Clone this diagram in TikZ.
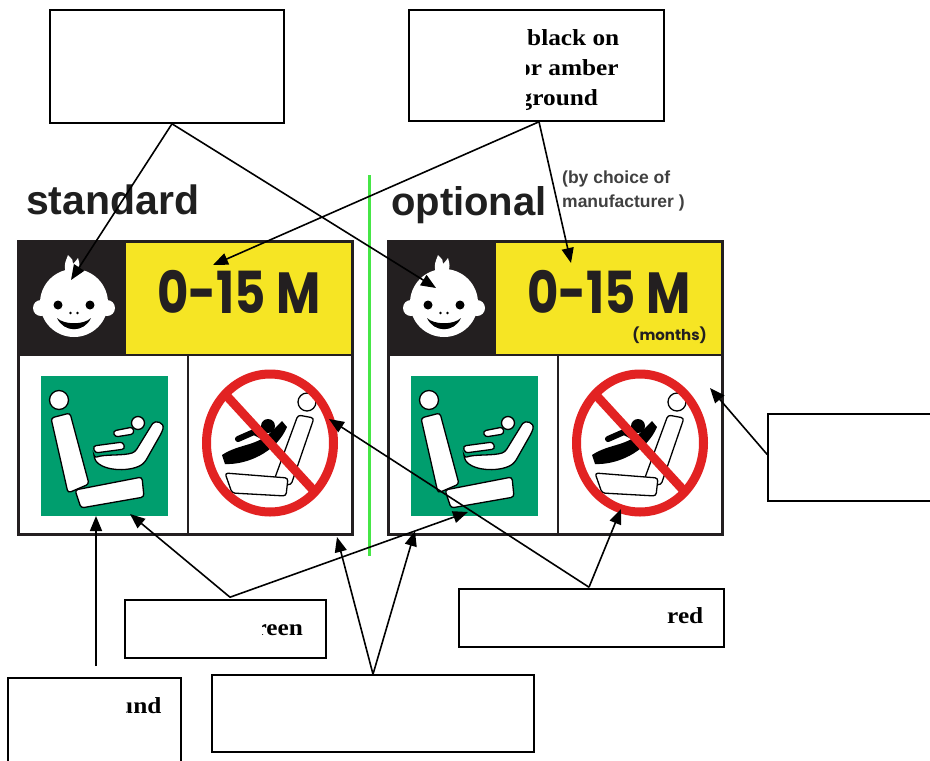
\documentclass[tikz,border=0pt]{standalone}
\usepackage{fontspec}
\setmainfont{Liberation Serif}
\newfontfamily\arialf{Liberation Sans}
\newfontfamily\popf{Poppins}
\usetikzlibrary{arrows.meta,calc}
\definecolor{signyellow}{RGB}{246,229,36}
\definecolor{signgreen}{RGB}{0,158,110}
\definecolor{signred}{RGB}{226,34,34}
\definecolor{linegreen}{RGB}{70,230,70}
\definecolor{signblack}{RGB}{35,31,32}
\newcommand{\signpanel}{%
  \fill[white] (18,241) rectangle (352,534);
  \fill[signblack] (18,241) rectangle (126,355);
  \fill[signyellow] (126,241) rectangle (352,355);
  \draw[signblack,line width=1.6pt] (18,355) -- (352,355) (188,355) -- (188,534);
  \fill[signgreen] (41,376) rectangle (168,516);
  % baby face
  \begin{scope}[shift={(74,303)}]
    \fill[white] (-33,5) circle (8) (33,5) circle (8);
    \fill[white] (0,0) circle (34);
    \fill[white] (-8,-31) .. controls (-11,-38) and (-8,-42) .. (-6,-48)
      .. controls (-2,-44) and (0,-42) .. (-1,-39)
      .. controls (2,-42) and (3,-44) .. (4,-45)
      .. controls (6,-39) and (6,-35) .. (4,-31) -- cycle;
    \fill[black] (-16,2) circle (4.5) (16,2) circle (4.5);
    \fill[black] (-3.5,10) circle (1.4) (3.5,10) circle (1.4);
    \fill[black] (-17,15) .. controls (-10,30) and (10,30) .. (17,15)
      .. controls (10,22) and (-10,22) .. (-17,15) -- cycle;
  \end{scope}
  % seat with rear-facing carrier (allowed)
  \begin{scope}[shift={(41,376)}]
    \draw[seatline] (10,42) -- (29,37) -- (48,108) -- (27,117) -- cycle;
    \draw[seatline] (34,114) -- (101,101) -- (103,121) -- (40,132) -- cycle;
    \draw[seatline] (18,24) circle (9.5);
    \draw[seatline] (53,82) .. controls (62,96) and (92,96) .. (104,86)
      -- (121,56) .. controls (124,46) and (114,44) .. (110,50)
      -- (94,76) .. controls (82,80) and (64,78) .. (53,82) -- cycle;
    \draw[seatline] (97,47) circle (6.5);
    \draw[seatline] (52,70) -- (82,66) -- (84,73) -- (54,77) -- cycle;
    \draw[seatline] (72,55) -- (92,51) -- (93,58) -- (74,61) -- cycle;
  \end{scope}
  % seat with child seat (prohibited)
  \begin{scope}[shift={(270,443)}]
    \draw[seatline] (28,-28) -- (44,-25) -- (21,42) -- (3,40) -- cycle;
    \draw[seatline] (37,-41) circle (9);
    \draw[seatline] (-45,30) -- (18,35) -- (16,53) -- (-38,50) -- cycle;
    \fill[black] (-48,12) .. controls (-30,0) and (-12,4) .. (4,-14)
      -- (12,-22) -- (17,-16) .. controls (6,10) and (-24,22) .. (-45,21) -- cycle;
    \fill[black] (-2,-17) circle (7);
    \draw[black,line width=6pt,line cap=round] (-32,-4) -- (-16,-11) -- (-6,-6);
    \draw[signred,line width=9pt] (0,0) ellipse (63.5 and 69);
    \draw[signred,line width=9pt] (-45,-49) -- (45,49);
  \end{scope}
  \draw[signblack,line width=3pt] (18,241) rectangle (352,534);
  \node[anchor=base west,font=\popf\bfseries\fontsize{58}{58}\selectfont,
        inner sep=0pt,text depth=0pt,text height=41pt,xscale=0.83,text=signblack] at (157,313) {0-15 M};
}
\begin{document}
\begin{tikzpicture}[x=1pt,y=-1pt,
  seatline/.style={fill=white,draw=black,line width=1.3pt,rounded corners=3pt},
  lbl/.style={draw=black,line width=1.6pt,fill=white,inner sep=0pt},
  conn/.style={line width=1.6pt},
  arr/.style={conn,-{Triangle[length=15pt,width=12pt]}},
  boxtext/.style={font=\fontsize{23}{26}\selectfont\bfseries,inner sep=0pt,anchor=base west,xscale=1.1},
  headtext/.style={font=\arialf\bfseries\fontsize{41}{41}\selectfont,inner sep=0pt,anchor=base west,text=black!88},
  smalltext/.style={font=\arialf\bfseries\fontsize{17.5}{17.5}\selectfont,inner sep=0pt,anchor=base west,text=black!75}]
\useasboundingbox[fill=white] (0,0) rectangle (930,761);

% sign panels
\signpanel
\begin{scope}[shift={(370,0)}]
  \signpanel
\end{scope}
\node[anchor=base east,font=\popf\bfseries\fontsize{15}{15}\selectfont,inner sep=0pt,text=signblack] (months) at (707,340) {(months)};

% divider
\draw[linegreen,line width=3pt] (369,175) -- (369,556);

% headings
\node[headtext] (std) at (26,214) {standard};
\node[headtext,font=\arialf\bfseries\fontsize{40}{40}\selectfont] (opt) at (391,215) {optional};
\node[smalltext] (choice1) at (562,183) {(by choice of};
\node[smalltext] (choice2) at (562,207) {manufacturer )};

% label boxes
\node[lbl,minimum width=234pt,minimum height=113pt] (tl) at (167,66.5) {};
\node[lbl,minimum width=255pt,minimum height=111pt] (tr) at (536.5,65.5) {};
\node[lbl,minimum width=172pt,minimum height=87pt] (rb) at (854,457.5) {};
\node[lbl,minimum width=201pt,minimum height=58pt] (gb) at (225.5,629) {};
\node[lbl,minimum width=265pt,minimum height=58pt] (redb) at (591.5,618) {};
\node[lbl,minimum width=173pt,minimum height=92pt] (ib) at (94.5,724) {};
\node[lbl,minimum width=322pt,minimum height=77pt] (cb) at (373,713.5) {};

% box texts
\begin{scope}
  \clip (526,12) rectangle (662,119);
  \node[boxtext] (tr1) at (527,45) {black on};
  \node[boxtext] (tr2) at (518,75) {or amber};
  \node[boxtext] (tr3) at (519.5,105) {ground};
\end{scope}
\begin{scope}
  \clip (262,602) rectangle (324,656);
  \node[boxtext] (gbt) at (255.3,635) {reen};
\end{scope}
\begin{scope}
  \clip (126,680) rectangle (179,760);
  \node[boxtext] (ibt) at (119,713) {und};
\end{scope}
\node[boxtext] (redt) at (667,623) {red};

% targets
\coordinate (faceL) at (71,280);
\coordinate (faceR) at (436,288);
\coordinate (ageL) at (213,265);
\coordinate (ageR) at (571,263);
\coordinate (cellR) at (710,388);
\coordinate (ringR) at (621,509);
\coordinate (ringL) at (329,419);
\coordinate (greenL) at (130,514);
\coordinate (greenR) at (468,512);
\coordinate (frameL) at (337,537);
\coordinate (frameR) at (415,531);
\coordinate (seatL) at (96,516);

% connectors
\coordinate (tlA) at ([xshift=5pt]tl.south);
\draw[arr] (tlA) -- (faceL);
\draw[arr] (tlA) -- (faceR);
\coordinate (trA) at ([xshift=2.5pt]tr.south);
\draw[arr] (trA) -- (ageL);
\draw[arr] (trA) -- (ageR);
\draw[arr] ([yshift=3pt]rb.west) -- (cellR);
\coordinate (redA) at ([xshift=-2.5pt,yshift=1pt]redb.north);
\draw[arr] (redA) -- (ringR);
\draw[arr] (redA) -- (ringL);
\coordinate (gbA) at ([xshift=4.5pt,yshift=2pt]gb.north);
\draw[arr] (gbA) -- (greenL);
\draw[arr] (gbA) -- (greenR);
\draw[arr] (cb.north) -- (frameL);
\draw[arr] (cb.north) -- (frameR);
\coordinate (ibA) at ([xshift=1.5pt,yshift=11pt]ib.north);
\draw[arr] (ibA) -- (seatL);
\end{tikzpicture}
\end{document}
